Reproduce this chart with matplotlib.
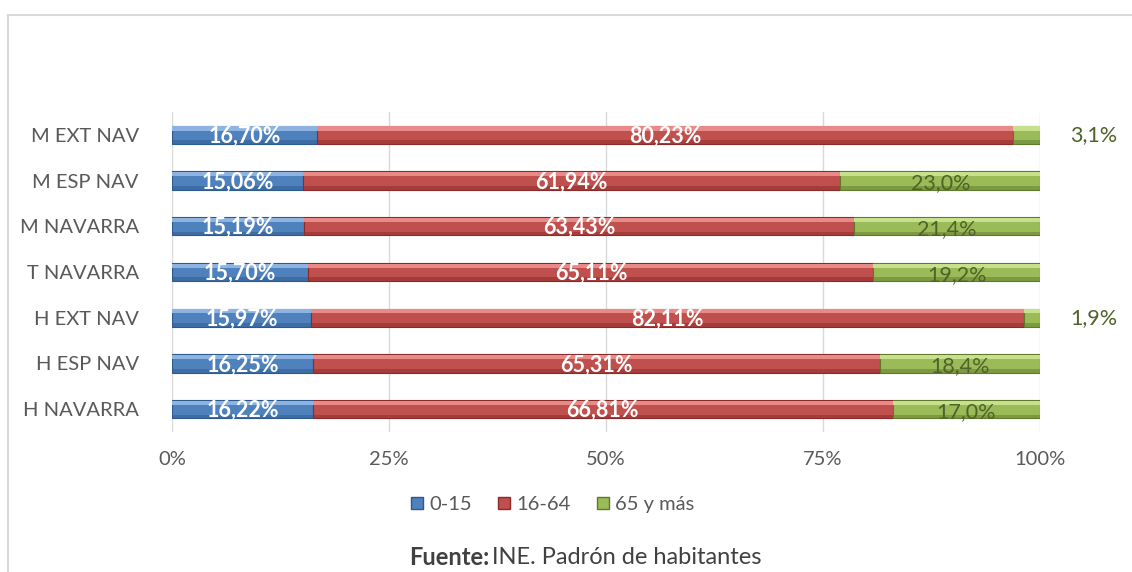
import numpy as np
import matplotlib.pyplot as plt
from matplotlib.lines import Line2D
from matplotlib.patches import Patch

plt.rcParams['font.family'] = ['Lato', 'DejaVu Sans']

# data (bottom to top)
groups = ["H NAVARRA", "H ESP NAV", "H EXT NAV", "T NAVARRA", "M NAVARRA", "M ESP NAV", "M EXT NAV"]
age_0_15 = [16.22, 16.25, 15.97, 15.70, 15.19, 15.06, 16.70]
age_16_64 = [66.81, 65.31, 82.11, 65.11, 63.43, 61.94, 80.23]
age_65 = [17.0, 18.4, 1.9, 19.2, 21.4, 23.0, 3.1]
series_names = ["0-15", "16-64", "65 y más"]

colors = ["#4f81bd", "#c0504d", "#9bbb59"]
light = ["#8db3e2", "#e88a87", "#c6e08c"]
dark = ["#2c5a8c", "#8c2a28", "#5f7a2a"]

fig = plt.figure(figsize=(11.32, 5.72), dpi=100)
ax = fig.add_axes([0.152, 0.2448, 0.7668, 0.5594])

y = np.arange(len(groups))
h = 0.4
a = np.array(age_0_15)
b = np.array(age_16_64)
c = np.array(age_65)
tot = a + b + c
# normalise to 100 %
lefts = [np.zeros(len(y)), a / tot * 100, (a + b) / tot * 100]
widths = [a / tot * 100, b / tot * 100, c / tot * 100]

for i in range(3):
    ax.barh(y, widths[i], left=lefts[i], height=h, color=colors[i],
            edgecolor=dark[i], linewidth=0.8, zorder=3)
    # highlight band on top, shade at bottom
    ax.barh(y + h / 2 - 0.06, widths[i], left=lefts[i], height=0.09,
            color=light[i], linewidth=0, zorder=4)
    ax.barh(y - h / 2 + 0.04, widths[i], left=lefts[i], height=0.08,
            color=dark[i], alpha=0.5, linewidth=0, zorder=4)

fs = 15.5
for k in range(len(y)):
    ax.text(lefts[0][k] + widths[0][k] / 2, y[k] - 0.03, f"{age_0_15[k]:.2f}%".replace(".", ","),
            ha="center", va="center", color="white", fontsize=fs, fontweight="bold", zorder=5)
    ax.text(lefts[1][k] + widths[1][k] / 2, y[k] - 0.03, f"{age_16_64[k]:.2f}%".replace(".", ","),
            ha="center", va="center", color="white", fontsize=fs, fontweight="bold", zorder=5)
    lab = f"{age_65[k]:.1f}%".replace(".", ",")
    if age_65[k] < 5:
        ax.text(106.2, y[k], lab, ha="center", va="center", color="#4f6228",
                fontsize=fs, zorder=5, clip_on=False)
    else:
        ax.text(lefts[2][k] + widths[2][k] / 2, y[k] - 0.06, lab, ha="center", va="center",
                color="#4f6228", fontsize=fs, zorder=5)

ax.set_xlim(0, 100)
ax.set_ylim(-0.5, len(groups) - 0.5)
ax.set_xticks([0, 25, 50, 75, 100])
ax.set_xticklabels(["0%", "25%", "50%", "75%", "100%"])
ax.set_yticks(y)
ax.set_yticklabels(groups)
ax.tick_params(axis="both", length=0, labelsize=14.5, labelcolor="#595959")
ax.tick_params(axis="x", pad=14)
ax.tick_params(axis="y", pad=24)
ax.grid(axis="x", color="#d9d9d9", linewidth=1, zorder=0)
for s in ax.spines.values():
    s.set_visible(False)

handles = [Patch(facecolor=colors[i], edgecolor=dark[i]) for i in range(3)]
fig.legend(handles, series_names, loc="center", bbox_to_anchor=(0.488, 0.118), ncol=3,
           frameon=False, fontsize=14.5, handlelength=0.6, handleheight=0.6,
           handletextpad=0.3, columnspacing=1.3, labelcolor="#595959")

fig.text(0.432, 0.025, "Fuente:", ha="right", va="center", fontsize=17, fontweight="bold", color="#404040")
fig.text(0.435, 0.025, "INE. Padrón de habitantes", ha="left", va="center", fontsize=17, color="#404040")

# outer frame
fig.add_artist(Line2D([8 / 1132, 1], [1 - 15 / 572, 1 - 15 / 572], color="#d9d9d9", linewidth=1.5))
fig.add_artist(Line2D([8 / 1132, 8 / 1132], [0, 1 - 15 / 572], color="#d9d9d9", linewidth=1.5))

fig.savefig("out.png", dpi=100)
